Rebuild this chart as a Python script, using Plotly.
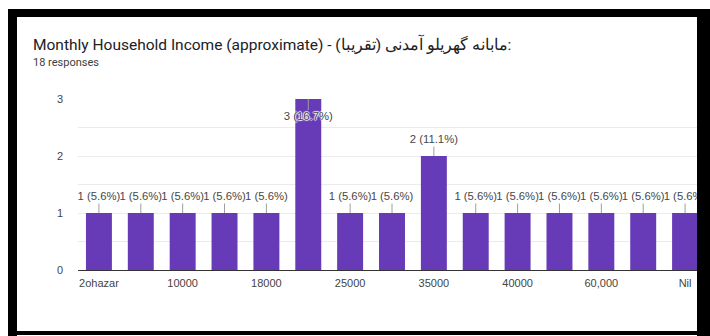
import plotly.graph_objects as go

# Survey answers and their counts
categories = ["2ohazar", "8000", "10000", "15000", "18000", "20000", "25000",
              "30000", "35000", "38000", "40000", "50000", "60,000", "70000", "Nil"]
counts = [1, 1, 1, 1, 1, 3, 1, 1, 2, 1, 1, 1, 1, 1, 1]
total_responses = 18
tick_labels = ["2ohazar", "10000", "18000", "25000", "35000", "40000", "60,000", "Nil"]

title_text = "Monthly Household Income (approximate) - مابانه گهریلو آمدنی (تقریبا):"
subtitle_text = f"{total_responses} responses"

Y_MAX = 3
PX_PER_UNIT = 57.0  # pixel height of one count unit in the plot area

labels = [f"{c} ({c / total_responses * 100:.1f}%)" for c in counts]

# label anchors: above short bars, inside the tallest bar
text_y, line_x, line_y = [], [], []
for cat, c in zip(categories, counts):
    if c >= Y_MAX:
        ty = c - 18 / PX_PER_UNIT
        ly = c - 11 / PX_PER_UNIT
    else:
        ty = c + 15.5 / PX_PER_UNIT
        ly = c + 9.5 / PX_PER_UNIT
    text_y.append(ty)
    line_x += [cat, cat, None]
    line_y += [c, ly, None]

fig = go.Figure()
fig.add_trace(go.Bar(
    x=categories, y=counts, width=0.62,
    marker=dict(color="#673ab7", line=dict(width=0)),
    hoverinfo="skip",
))
fig.add_trace(go.Scatter(
    x=line_x, y=line_y, mode="lines",
    line=dict(color="#9e9e9e", width=1),
    hoverinfo="skip", cliponaxis=True,
))
halo = "1px 0 1px #fff, -1px 0 1px #fff, 0 1px 1px #fff, 0 -1px 1px #fff"
for cat, ty, lab in zip(categories, text_y, labels):
    fig.add_trace(go.Scatter(
        x=[cat], y=[ty], mode="text", text=[lab],
        textposition="middle center",
        textfont=dict(family="Liberation Sans, Arial", size=11.3, color="#474747",
                      shadow=halo),
        hoverinfo="skip", cliponaxis=True,
    ))

# page frame
L, R, T, B = 78, 706, 99, 270
W, H = 710, 336


def px_x(p):
    return (p - L) / (R - L)


def px_y(p):
    return (B - p) / (B - T)


frame = [
    (8, 9, 710, 17),     # top band
    (8, 9, 17, 336),     # left band
    (697, 9, 710, 336),  # right band
    (8, 331, 710, 335),  # bottom band
]
shapes = [
    dict(type="rect", xref="paper", yref="paper",
         x0=px_x(x0), x1=px_x(x1), y0=px_y(y1), y1=px_y(y0),
         fillcolor="#000000", line=dict(width=0), layer="above")
    for x0, y0, x1, y1 in frame
]

fig.update_layout(
    width=W, height=H,
    margin=dict(l=L, r=W - R, t=T, b=H - B),
    plot_bgcolor="#ffffff", paper_bgcolor="#ffffff",
    showlegend=False,
    bargap=0.38,
    shapes=shapes,
    annotations=[
        dict(text=title_text, xref="paper", yref="paper",
             x=px_x(31), y=px_y(44), xanchor="left", yanchor="middle",
             showarrow=False,
             font=dict(family="Roboto", size=15.5, color="#202124")),
        dict(text=subtitle_text, xref="paper", yref="paper",
             x=px_x(31), y=px_y(62), xanchor="left", yanchor="middle",
             showarrow=False,
             font=dict(family="Roboto", size=11, color="#3c4043")),
    ],
    xaxis=dict(
        type="category", categoryorder="array", categoryarray=categories,
        range=[-0.5, len(categories) - 0.5],
        tickvals=tick_labels, ticktext=tick_labels,
        showgrid=False, showline=True, linecolor="#333333", linewidth=1,
        ticks="", ticklabelstandoff=3,
        tickfont=dict(family="Liberation Sans, Arial", size=11, color="#444444"),
        fixedrange=True,
    ),
    yaxis=dict(
        range=[0, Y_MAX],
        tickvals=[0, 0.5, 1, 1.5, 2, 2.5, 3],
        ticktext=["0", "", "1", "", "2", "", "3"],
        showgrid=True, gridcolor="#ebebeb", gridwidth=1,
        zeroline=False, showline=False, ticks="",
        ticklabelstandoff=14,
        tickfont=dict(family="Liberation Sans, Arial", size=11, color="#444444"),
        fixedrange=True,
    ),
)

fig.write_html("out.html")
